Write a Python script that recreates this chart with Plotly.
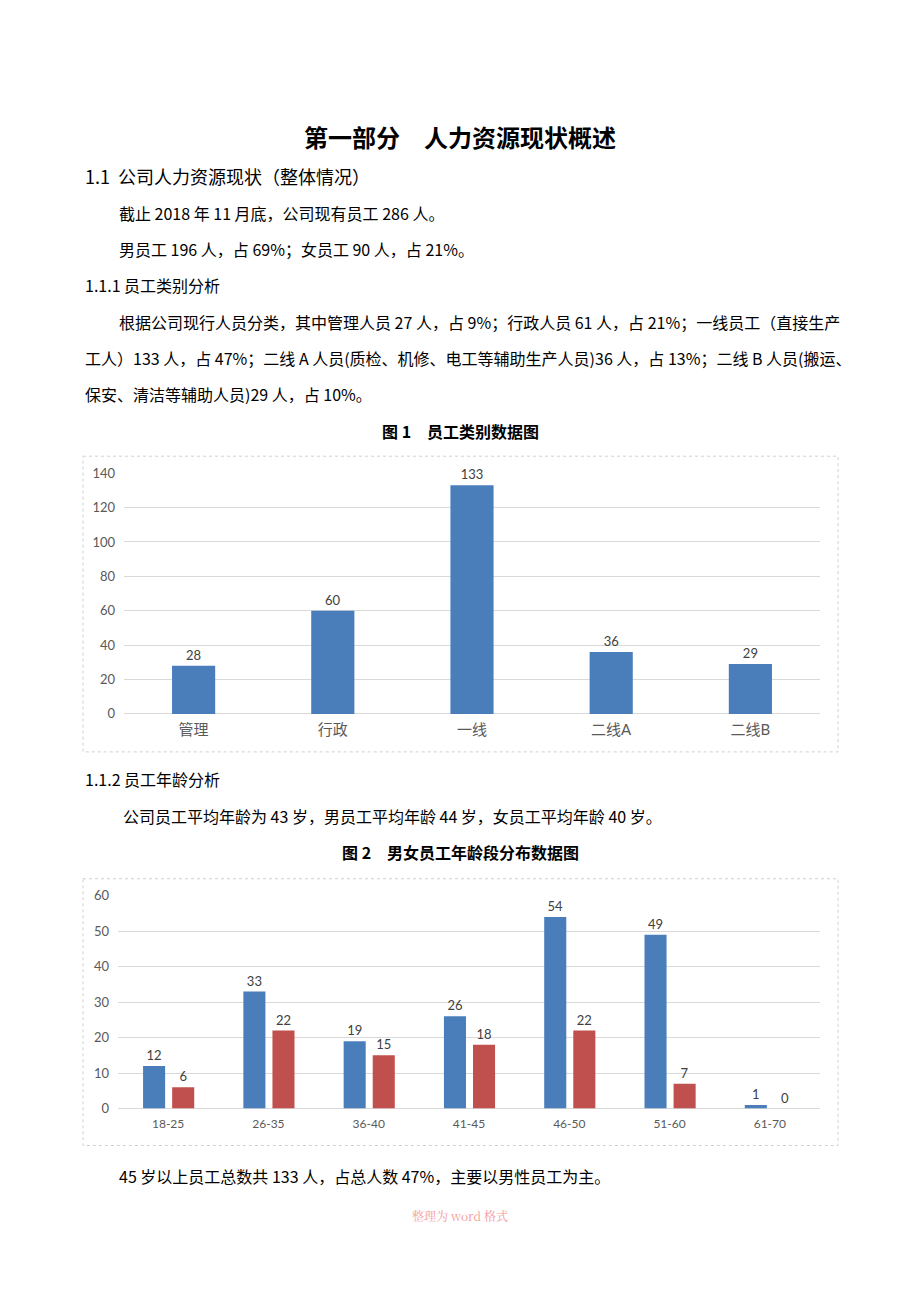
import plotly.graph_objects as go

# the html page keeps its default 8px body margin on every side,
# so the figure is made 16px smaller than the window and positioned inside it
OFF = 8
W, H = 920 - 2 * OFF, 1302 - 2 * OFF
# small empirical vertical correction of the page photograph
V_SHIFT, V_SCALE = 8.5, 0.9885

# ---- data ----
categories = ["管理", "行政", "一线", "二线A", "二线B"]
category_counts = [28, 60, 133, 36, 29]
cat_ticks = [0, 20, 40, 60, 80, 100, 120, 140]

age_groups = ["18-25", "26-35", "36-40", "41-45", "46-50", "51-60", "61-70"]
male_counts = [12, 33, 19, 26, 54, 49, 1]
female_counts = [6, 22, 15, 18, 22, 7, 0]
age_ticks = [0, 10, 20, 30, 40, 50, 60]

BLUE = "#4a7ebb"
RED = "#c0504d"
GRID = "#d9d9d9"
TICK = "#595959"
LABEL = "#404040"
CJK = "Noto Sans CJK SC"
CHART_FONT = "Lato, Noto Sans CJK SC"


def px(x):
    return (x - OFF) / W


def py(y):
    y_eff = (y - V_SHIFT) / V_SCALE
    return 1 - (y_eff - OFF) / H


fig = go.Figure()

fig.add_trace(go.Bar(
    x=categories, y=category_counts, marker_color=BLUE, marker_line_width=0,
    text=category_counts, textposition="outside", cliponaxis=False,
    textfont=dict(size=13, color=LABEL, family=CHART_FONT),
    xaxis="x", yaxis="y", showlegend=False,
))

fig.add_trace(go.Bar(
    x=age_groups, y=male_counts, marker_color=BLUE, marker_line_width=0,
    text=male_counts, textposition="outside", cliponaxis=False,
    textfont=dict(size=13, color=LABEL, family=CHART_FONT),
    xaxis="x2", yaxis="y2", showlegend=False, name="男",
))
fig.add_trace(go.Bar(
    x=age_groups, y=female_counts, marker_color=RED, marker_line_width=0,
    text=female_counts, textposition="outside", cliponaxis=False,
    textfont=dict(size=13, color=LABEL, family=CHART_FONT),
    xaxis="x2", yaxis="y2", showlegend=False, name="女",
))

axis_common = dict(showline=False, ticks="", fixedrange=True)

fig.update_layout(
    width=W, height=H,
    margin=dict(l=0, r=0, t=0, b=0),
    paper_bgcolor="white", plot_bgcolor="white",
    font=dict(family=CJK, color="#000000"),
    barmode="group",
    bargap=0.69,
    xaxis=dict(domain=[px(124), px(820)], anchor="y", showgrid=False, zeroline=False,
               tickfont=dict(size=15, color=TICK, family=CHART_FONT), ticklabelstandoff=5,
               **axis_common),
    yaxis=dict(domain=[py(715), py(474)], anchor="x", range=[0, 140], tickvals=cat_ticks,
               showgrid=True, gridcolor=GRID, gridwidth=1, zeroline=True, zerolinecolor=GRID,
               zerolinewidth=1, tickfont=dict(size=13, color=TICK, family=CHART_FONT),
               ticklabelstandoff=8, **axis_common),
    xaxis2=dict(domain=[px(118), px(820)], anchor="y2", showgrid=False, zeroline=False,
                tickfont=dict(size=12, color=TICK, family=CHART_FONT), ticklabelstandoff=6,
                **axis_common),
    yaxis2=dict(domain=[py(1110), py(897)], anchor="x2", range=[0, 60], tickvals=age_ticks,
                showgrid=True, gridcolor=GRID, gridwidth=1, zeroline=True, zerolinecolor=GRID,
                zerolinewidth=1, tickfont=dict(size=13, color=TICK, family=CHART_FONT),
                ticklabelstandoff=8, **axis_common),
)

# second chart: paired bars with a small gap between them
fig.data[1].update(width=0.22, offset=-0.25)
fig.data[2].update(width=0.22, offset=0.04)

# chart borders
for (x0, y0, x1, y1) in [(83, 457, 838, 753), (83, 880, 838, 1147)]:
    fig.add_shape(type="rect", xref="paper", yref="paper",
                  x0=px(x0), x1=px(x1), y0=py(y0), y1=py(y1),
                  line=dict(color="#d0d0d0", width=1, dash="dot"), fillcolor="rgba(0,0,0,0)")

# ---- page text ----
texts = [
    ("第一部分　人力资源现状概述", 460, 137, 24, True, "center"),
    ("1.1  公司人力资源现状（整体情况）", 83, 177, 18, False, "left"),
    ("截止 2018 年 11 月底，公司现有员工 286 人。", 117, 214, 16, False, "left"),
    ("男员工 196 人，占 69%；女员工 90 人，占 21%。", 117, 250, 16, False, "left"),
    ("1.1.1 员工类别分析", 83, 286, 16, False, "left"),
    ("根据公司现行人员分类，其中管理人员 27 人，占 9%；行政人员 61 人，占 21%；一线员工（直接生产", 117, 323, 16, False, "left"),
    ("工人）133 人，占 47%；二线 A 人员(质检、机修、电工等辅助生产人员)36 人，占 13%；二线 B 人员(搬运、", 83, 359, 16, False, "left"),
    ("保安、清洁等辅助人员)29 人，占 10%。", 83, 395, 16, False, "left"),
    ("图 1　员工类别数据图", 460, 432, 16, True, "center"),
    ("1.1.2 员工年龄分析", 83, 780, 16, False, "left"),
    ("公司员工平均年龄为 43 岁，男员工平均年龄 44 岁，女员工平均年龄 40 岁。", 121, 817, 16, False, "left"),
    ("图 2　男女员工年龄段分布数据图", 460, 853, 16, True, "center"),
    ("45 岁以上员工总数共 133 人，占总人数 47%，主要以男性员工为主。", 117, 1178, 16, False, "left"),
]
for (t, x, y, s, bold, anchor) in texts:
    fig.add_annotation(
        text=f"<b>{t}</b>" if bold else t,
        xref="paper", yref="paper", x=px(x), y=py(y),
        xanchor=anchor, yanchor="middle", showarrow=False,
        font=dict(size=s, color="#000000", family=CJK),
    )

fig.add_annotation(
    text="整理为 word 格式", xref="paper", yref="paper", x=px(460), y=py(1217),
    xanchor="center", yanchor="middle", showarrow=False,
    font=dict(size=12, color="#f29b9b", family="Noto Serif CJK SC, DejaVu Serif, serif"),
)

fig.write_html("out.html")
